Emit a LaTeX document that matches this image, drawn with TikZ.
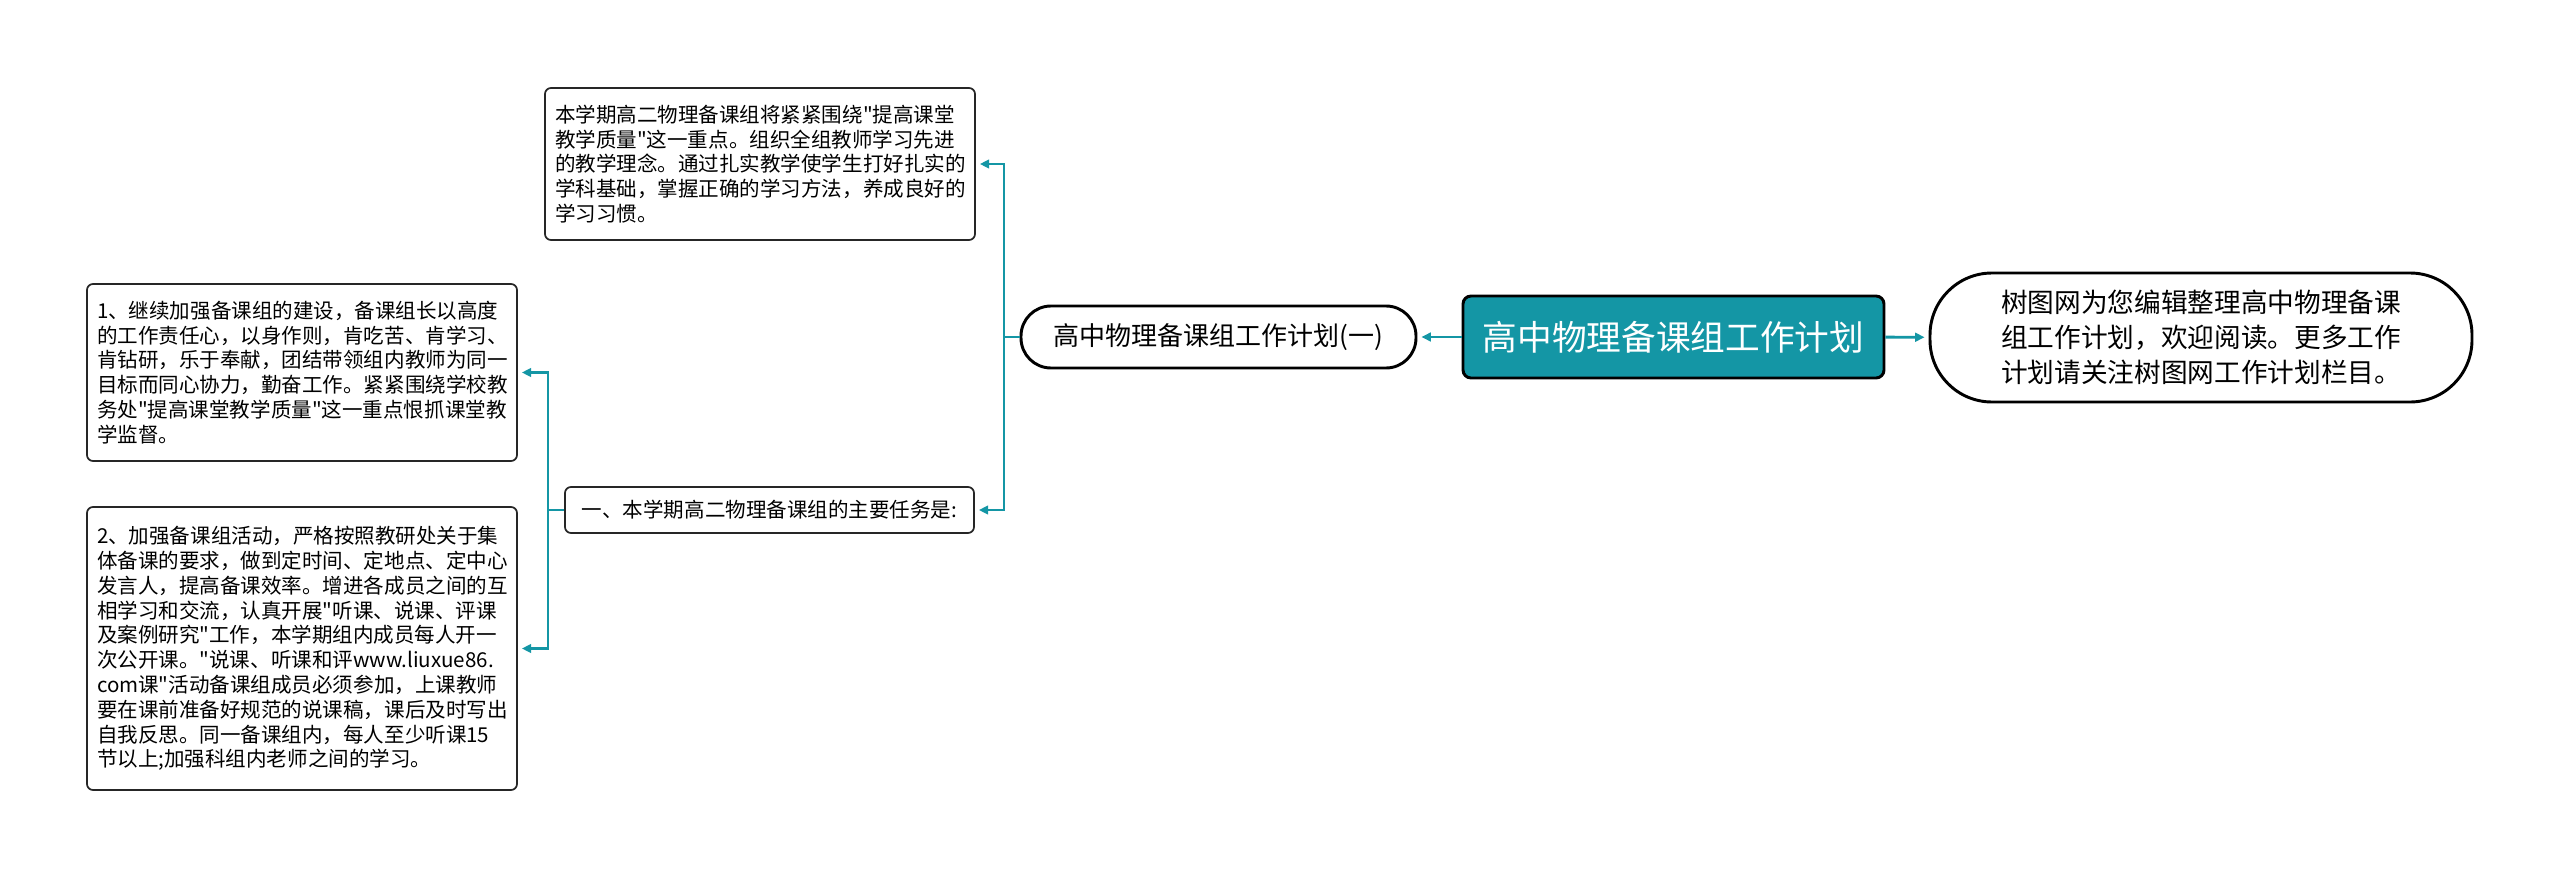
\documentclass[tikz,border=0pt]{standalone}
\usepackage{fontspec}
\usepackage{tikz}
\usetikzlibrary{arrows.meta}
\newfontfamily\cjkfont{Noto Sans CJK SC}
\definecolor{treeteal}{RGB}{20,150,165}
\newcommand{\pxu}{0.75pt}

\begin{document}
\begin{tikzpicture}[x=0.75pt, y=-0.75pt,
    textbox/.style={draw=black!85, line width=1.3pt, rounded corners=6*\pxu,
      fill=white, inner xsep=10*\pxu, inner ysep=0pt, align=left,
      text width=410*\pxu, font=\cjkfont\fontsize{15.4}{18.6}\selectfont},
    pillbox/.style={draw=black, line width=2.2pt, fill=white, inner sep=0pt,
      align=center, font=\cjkfont\fontsize{19.5}{24}\selectfont},
    link/.style={treeteal, line width=2.2pt, -{Triangle[length=7pt,width=6.5pt]},
      shorten >=4*\pxu}]
    \useasboundingbox (0,0) rectangle (2560,878);
    % root and its right-hand note
    \node[draw=black, line width=2.2pt, fill=treeteal, text=white,
      rounded corners=8*\pxu, minimum width=421*\pxu, minimum height=82*\pxu,
      font=\cjkfont\fontsize{26}{30}\selectfont] (root) at (1673.5,337) {高中物理备课组工作计划};
    \node[pillbox, rounded corners=62*\pxu, minimum width=542*\pxu,
      minimum height=129*\pxu, align=left, font=\cjkfont\fontsize{20}{26.3}\selectfont]
      (note) at (2201,337.5) {树图网为您编辑整理高中物理备课\\组工作计划，欢迎阅读。更多工作\\计划请关注树图网工作计划栏目。};
    % first branch
    \node[pillbox, rounded corners=30*\pxu, minimum width=395*\pxu,
      minimum height=62*\pxu] (planone) at (1218.5,337) {高中物理备课组工作计划(一)};
    \node[textbox, minimum height=152*\pxu] (intro) at (760,164)
      {本学期高二物理备课组将紧紧围绕"提高课堂\\教学质量"这一重点。组织全组教师学习先进\\的教学理念。通过扎实教学使学生打好扎实的\\学科基础，掌握正确的学习方法，养成良好的\\学习习惯。};
    \node[textbox, text width=, align=center, minimum width=409*\pxu,
      minimum height=46*\pxu] (tasks) at (769.5,510) {一、本学期高二物理备课组的主要任务是:};
    % the two tasks
    \node[textbox, minimum height=177*\pxu] (taskone) at (302,372.5)
      {1、继续加强备课组的建设，备课组长以高度\\的工作责任心，以身作则，肯吃苦、肯学习、\\肯钻研，乐于奉献，团结带领组内教师为同一\\目标而同心协力，勤奋工作。紧紧围绕学校教\\务处"提高课堂教学质量"这一重点恨抓课堂教\\学监督。};
    \node[textbox, minimum height=283*\pxu] (tasktwo) at (302,648.5)
      {2、加强备课组活动，严格按照教研处关于集\\体备课的要求，做到定时间、定地点、定中心\\发言人，提高备课效率。增进各成员之间的互\\相学习和交流，认真开展"听课、说课、评课\\及案例研究"工作，本学期组内成员每人开一\\次公开课。"说课、听课和评www.liuxue86.\\com课"活动备课组成员必须参加，上课教师\\要在课前准备好规范的说课稿，课后及时写出\\自我反思。同一备课组内，每人至少听课15\\节以上;加强科组内老师之间的学习。};
    % connectors
    \coordinate (forkone) at (1004,337);
    \coordinate (forktwo) at (548,510);
    \draw[link] (root) -- (planone);
    \draw[link] (root) -- (note);
    \draw[treeteal, line width=2.2pt] (planone.west) -- (forkone);
    \draw[link] (forkone) |- (intro.east);
    \draw[link] (forkone) |- (tasks.east);
    \draw[treeteal, line width=2.2pt] (tasks.west) -- (forktwo);
    \draw[link] (forktwo) |- (taskone.east);
    \draw[link] (forktwo) |- (tasktwo.east);
  \end{tikzpicture}
\end{document}
